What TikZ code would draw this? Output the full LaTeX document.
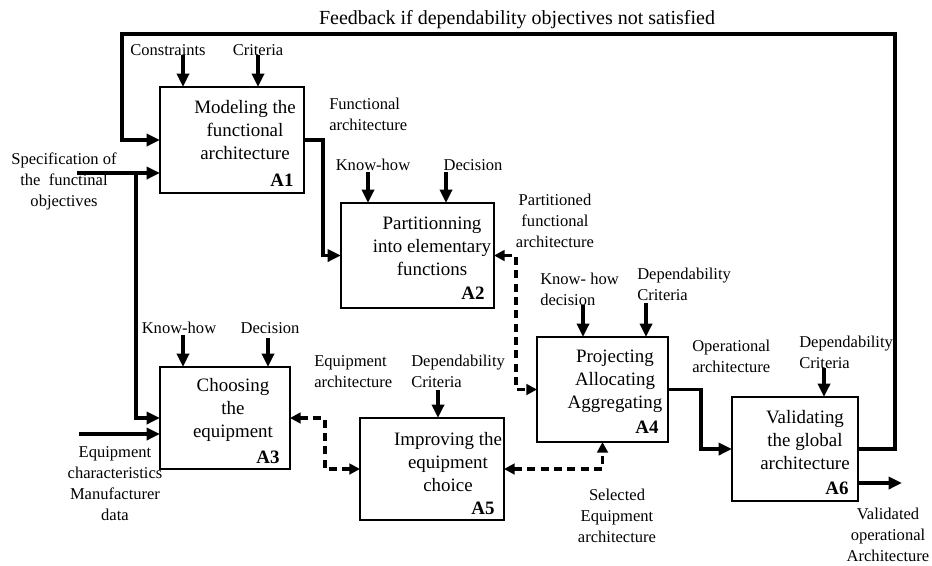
\documentclass[tikz,border=0pt]{standalone}
\usepackage{fontspec}
\setmainfont{Liberation Serif}
\usetikzlibrary{arrows.meta,calc}
\begin{document}
\begin{tikzpicture}[x=0.75pt,y=-0.75pt,
  box/.style={draw, line width=1.3pt, inner sep=0, outer sep=0, anchor=north west},
  arr/.style={line width=2.5pt, -{Triangle[length=10pt,width=9pt]}},
  darr/.style={line width=2.3pt, dash pattern=on 6pt off 4pt, {Triangle[length=8pt,width=8pt]}-{Triangle[length=8pt,width=8pt]}},
  lbl/.style={font=\fontsize{12.4}{15.75}\selectfont, inner sep=0, align=center},
  lbll/.style={font=\fontsize{12.4}{15.75}\selectfont, inner sep=0, align=left, anchor=west},
  btxt/.style={font=\fontsize{14.2}{17.25}\selectfont, inner sep=0, align=center},
  bid/.style={font=\fontsize{14.2}{17}\selectfont\bfseries, inner sep=0}]
\useasboundingbox (0,0) rectangle (932,565);

% boxes
\node[box, minimum width=108pt, minimum height=79.5pt] (A1) at (160,87) {};
\node[box, minimum width=114.75pt, minimum height=78.75pt] (A2) at (341,203) {};
\node[box, minimum width=97.5pt, minimum height=76.5pt] (A3) at (160,367) {};
\node[box, minimum width=98.25pt, minimum height=78.75pt] (A4) at (537,337) {};
\node[box, minimum width=108pt, minimum height=76.5pt] (A5) at (360,418) {};
\node[box, minimum width=94.5pt, minimum height=78pt] (A6) at (732,397) {};

% box texts
\node[btxt] (t1) at (245,130) {Modeling the\\functional\\architecture};
\node[btxt] (t2) at (432,246) {Partitionning\\into elementary\\functions};
\node[btxt] (t3) at (233,410) {Choosing\\the\\equipment};
\node[btxt] (t4) at (615,381) {Projecting\\Allocating\\Aggregating};
\node[btxt] (t5) at (448,462) {Improving the\\equipment\\choice};
\node[btxt] (t6) at (805,440) {Validating\\the global\\architecture};
\node[bid] (i1) at (282,180) {A1};
\node[bid] (i2) at (473,293) {A2};
\node[bid] (i3) at (268,457) {A3};
\node[bid] (i4) at (647,427) {A4};
\node[bid] (i5) at (483,508) {A5};
\node[bid] (i6) at (837,488) {A6};

% labels
\node[font=\fontsize{15}{18}\selectfont, inner sep=0] (fb) at (517,20) {Feedback if dependability objectives not satisfied};
\node[lbl] (lc) at (168,50) {Constraints};
\node[lbl] (lcr) at (258,50) {Criteria};
\node[lbl] (lspec) at (64,181) {Specification of\\the\ \ functinal\\objectives};
\node[lbll] (lfa) at (329,114.5) {Functional\\architecture};
\node[lbl] (lkh2) at (373,165) {Know-how};
\node[lbl] (ld2) at (473,165) {Decision};
\node[lbl] (lpfa) at (555,221) {Partitioned\\functional\\architecture};
\node[lbl] (lkh3) at (179,328) {Know-how};
\node[lbl] (ld3) at (270,328) {Decision};
\node[lbll] (lkh4) at (540,289.5) {Know- how\\decision};
\node[lbll] (ldc4) at (637,284.5) {Dependability\\Criteria};
\node[lbll] (loa) at (692,356.5) {Operational\\architecture};
\node[lbll] (ldc6) at (799,352.5) {Dependability\\Criteria};
\node[lbll] (lea) at (314,371.5) {Equipment\\architecture};
\node[lbll] (ldc5) at (411,371.5) {Dependability\\Criteria};
\node[lbl] (leq) at (115,483.5) {Equipment\\characteristics\\Manufacturer\\data};
\node[lbl] (lsel) at (617,516) {Selected\\Equipment\\architecture};
\node[lbl] (lval) at (888,535) {Validated\\operational\\Architecture};

% free ends / corners
\coordinate (m1a) at (183,55);
\coordinate (m1b) at (258,55);
\coordinate (m2a) at (368,172);
\coordinate (m2b) at (446,172);
\coordinate (m3a) at (183,335);
\coordinate (m3b) at (268,338);
\coordinate (m4a) at (583,305);
\coordinate (m4b) at (646,303);
\coordinate (m5a) at (438,390);
\coordinate (m6a) at (824,368);
\coordinate (specS) at (77,173);
\coordinate (specJ) at (136,173);
\coordinate (eqS) at (79,434);
\coordinate (k1) at (323,140);
\coordinate (k2) at (516,320);
\coordinate (k3) at (325,440);
\coordinate (k4) at (701,420);
\coordinate (fbR) at (895,34);
\coordinate (fbL) at (122,34);
\coordinate (outE) at (902,483);

% mechanism/control arrows
\draw[arr] (m1a) -- (m1a |- A1.north);
\draw[arr] (m1b) -- (m1b |- A1.north);
\draw[arr] (m2a) -- (m2a |- A2.north);
\draw[arr] (m2b) -- (m2b |- A2.north);
\draw[arr] (m3a) -- (m3a |- A3.north);
\draw[arr] (m3b) -- (m3b |- A3.north);
\draw[arr] (m4a) -- (m4a |- A4.north);
\draw[arr] (m4b) -- (m4b |- A4.north);
\draw[arr] (m5a) -- (m5a |- A5.north);
\draw[arr] (m6a) -- (m6a |- A6.north);

% inputs
\draw[arr] (specS) -- (A1.west |- specS);
\draw[arr] (specJ) |- (A3.west);
\draw[arr] (eqS) -- (A3.west |- eqS);

% flows
\draw[arr] (A1.east) -- (k1) |- (A2.west);
\draw[arr] (A4.east) -| (k4) |- (A6.west);
\draw[arr] (A6.east) -| (fbR) -- (fbL) |- (A1.west);
\draw[arr] (A6.east |- outE) -- (outE);

% dashed two-way
\draw[darr] (A2.east) -| (k2) |- (A4.west);
\draw[darr] (A3.east) -| (k3) |- (A5.west);
\draw[darr] (A5.east) -| (A4.south);
\end{tikzpicture}
\end{document}
